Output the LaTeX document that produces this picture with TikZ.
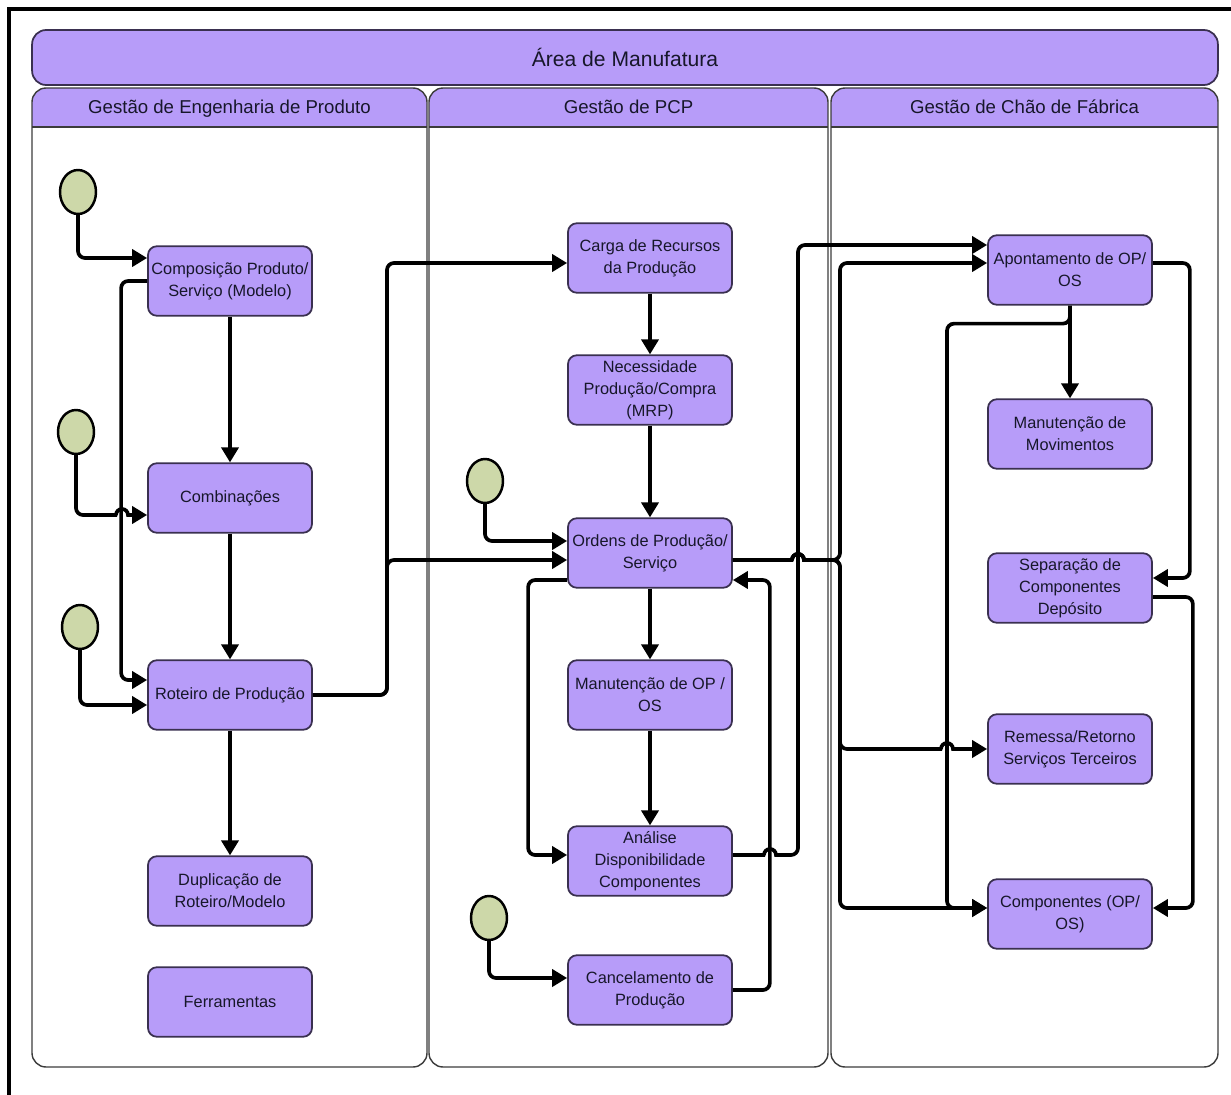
\documentclass[tikz,border=0pt]{standalone}
\usepackage{fontspec}
\setmainfont{Liberation Sans}
\usetikzlibrary{arrows.meta,shapes.geometric,calc}
\definecolor{boxfill}{HTML}{B79CF9}
\definecolor{boxline}{HTML}{3A3050}
\definecolor{startfill}{HTML}{CDD8A9}
\definecolor{laneline}{HTML}{3C3C3C}
\definecolor{textcol}{HTML}{17172A}

\begin{document}
\begin{tikzpicture}[x=0.02cm,y=-0.02cm,
  act/.style={draw=boxline,fill=boxfill,line width=1pt,rounded corners=5pt,minimum width=3.28cm,minimum height=1.39cm,align=center,inner sep=1pt,text=textcol,font=\fontsize{9.3}{12.6}\selectfont},
  ini/.style={ellipse,draw=black,fill=startfill,line width=1.4pt,minimum width=0.72cm,minimum height=0.88cm,inner sep=0pt},
  flow/.style={line width=2.1pt,rounded corners=4pt,-{Triangle[length=0.3cm,width=0.34cm]}},
  lane/.style={draw=laneline,line width=0.8pt},
  hdr/.style={text=textcol,text height=1.5ex,text depth=0.3ex,font=\fontsize{10.6}{12}\selectfont}]
\useasboundingbox (0,0) rectangle (1231,1095);
\fill[white] (0,0) rectangle (1231,1095);
\draw[line width=2.3pt] (9,1095) -- (9,9) -- (1231,9);

\node[draw=boxline,fill=boxfill,line width=1pt,rounded corners=8pt,minimum width=23.72cm,minimum height=1.1cm,text=textcol,font=\fontsize{12}{14}\selectfont] (area) at (625,57.5) {Área de Manufatura};

\foreach \xa/\xb in {32/427,429/828,831/1218} {
  \begin{scope}
    \clip[rounded corners=8pt] (\xa,88) rectangle (\xb,1067);
    \fill[boxfill] (\xa,88) rectangle (\xb,127);
  \end{scope}
  \draw[lane,rounded corners=8pt] (\xa,88) rectangle (\xb,1067);
  \draw[lane] (\xa,127) -- (\xb,127);
}
\node[hdr] (eng) at (229.5,108) {Gestão de Engenharia de Produto};
\node[hdr] (pcp) at (628.5,108) {Gestão de PCP};
\node[hdr] (chao) at (1024.5,108) {Gestão de Chão de Fábrica};

\node[ini] (s1) at (78,192) {};
\node[ini] (s2) at (76,432) {};
\node[ini] (s3) at (80,627) {};
\node[ini] (s4) at (485,481) {};
\node[ini] (s5) at (489,918) {};

\node[act] (comp) at (230,281) {Composição Produto/\\Serviço (Modelo)};
\node[act] (comb) at (230,498) {Combinações};
\node[act] (rot) at (230,695) {Roteiro de Produção};
\node[act] (dup) at (230,891) {Duplicação de\\Roteiro/Modelo};
\node[act] (ferr) at (230,1002) {Ferramentas};

\node[act] (carga) at (650,258) {Carga de Recursos\\da Produção};
\node[act] (nec) at (650,390) {Necessidade\\Produção/Compra\\(MRP)};
\node[act] (ord) at (650,553) {Ordens de Produção/\\Serviço};
\node[act] (man) at (650,695) {Manutenção de OP /\\OS};
\node[act] (ana) at (650,861) {Análise\\Disponibilidade\\Componentes};
\node[act] (canc) at (650,990) {Cancelamento de\\Produção};

\node[act] (apo) at (1070,270) {Apontamento de OP/\\OS};
\node[act] (mmov) at (1070,434) {Manutenção de\\Movimentos};
\node[act] (sep) at (1070,588) {Separação de\\Componentes\\Depósito};
\node[act] (rem) at (1070,749) {Remessa/Retorno\\Serviços Terceiros};
\node[act] (cmp) at (1070,914) {Componentes (OP/\\OS)};

\draw[flow] (s1.south) |- ($(comp.west)+(0,-23)$);
\draw[flow] (comp) -- (comb);
\draw[flow] (comb) -- (rot);
\draw[flow] (rot) -- (dup);
\draw[flow] (comp.west) -- ++(-26,0) |- ($(rot.west)+(0,-15)$);
\draw[flow] (s2.south) |- (110,515) [sharp corners] -- (116,515) arc[start angle=180,end angle=0,radius=0.12cm] -- ($(comb.west)+(0,17)$);
\draw[flow] (s3.south) |- ($(rot.west)+(0,10)$);
\draw[flow] (rot.east) -| (387,263) -- ($(carga.west)+(0,5)$);
\draw[flow] (rot.east) -| (387,560) -- ($(ord.west)+(0,7)$);

\draw[flow] (carga) -- (nec);
\draw[flow] (nec) -- (ord);
\draw[flow] (ord) -- (man);
\draw[flow] (man) -- (ana);
\draw[flow] (s4.south) |- ($(ord.west)+(0,-12)$);
\draw[flow] ($(ord.west)+(0,27)$) -- ++(-39,0) |- ($(ana.west)+(0,-6)$);
\draw[flow] (s5.south) |- ($(canc.west)+(0,-12)$);
\draw[flow] (canc.east) -| ($(ord.east)+(37,27)$) -- ($(ord.east)+(0,27)$);
\draw[flow] ($(ana.east)+(0,-6)$) -- (758,855) [sharp corners] -- (764,855) arc[start angle=180,end angle=0,radius=0.12cm] [rounded corners=4pt] -- (798,855) |- ($(apo.west)+(0,-25)$);
\draw[flow] ($(ord.east)+(0,7)$) -- (786,560) [sharp corners] -- (792,560) arc[start angle=180,end angle=0,radius=0.12cm] [rounded corners=4pt] -- (840,560) |- ($(apo.west)+(0,-7)$);
\draw[flow] ($(ord.east)+(0,7)$) -- (786,560) [sharp corners] -- (792,560) arc[start angle=180,end angle=0,radius=0.12cm] [rounded corners=4pt] -- (840,560) |- (935,749) [sharp corners] -- (941,749) arc[start angle=180,end angle=0,radius=0.12cm] -- (rem.west);
\draw[flow] ($(ord.east)+(0,7)$) -- (786,560) [sharp corners] -- (792,560) arc[start angle=180,end angle=0,radius=0.12cm] [rounded corners=4pt] -- (840,560) |- ($(cmp.west)+(0,-6)$);

\draw[flow] (apo) -- (mmov);
\draw[flow] (apo.south) -- ++(0,18) -| (947,908) -- ($(cmp.west)+(0,-6)$);
\draw[flow] ($(apo.east)+(0,-7)$) -| ($(sep.east)+(37,-10)$) -- ($(sep.east)+(0,-10)$);
\draw[flow] ($(sep.east)+(0,9)$) -| ($(cmp.east)+(40,-6)$) -- ($(cmp.east)+(0,-6)$);
\end{tikzpicture}
\end{document}
